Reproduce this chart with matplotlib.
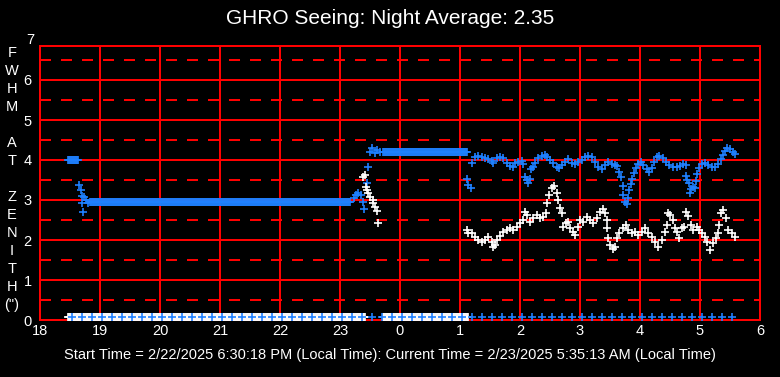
import numpy as np
import matplotlib
matplotlib.use("Agg")
import matplotlib.pyplot as plt

plt.rcParams['font.family'] = ['Liberation Sans', 'DejaVu Sans']
plt.rcParams['lines.scale_dashes'] = False

# tijden in minuten na 18:00 lokale tijd, waarden in boogseconden
judul = "GHRO Seeing: Night Average: 2.35"
keterangan = "Start Time = 2/22/2025 6:30:18 PM (Local Time): Current Time = 2/23/2025 5:35:13 AM (Local Time)"
label_y = ["F", "W", "H", "M", "", "A", "T", "", "Z", "E", "N", "I", "T", "H", "(\")"]
tick_jam = [18, 19, 20, 21, 22, 23, 24, 25, 26, 27, 28, 29, 30]
label_jam = ["18", "19", "20", "21", "22", "23", "0", "1", "2", "3", "4", "5", "6"]

# blok-blok konstan (sampling tiap menit)
blok_awal = (28, 38, 4.0)
blok_datar = (50, 310, 2.94)
blok_atas = (343, 427, 4.19)

menit_biru = [39.3, 40.7, 41.7, 44, 42.3, 45.7, 43.3, 48.3,
              314, 316, 318.3, 320.7, 323.3, 324.3, 326.7, 328.3, 330, 331.7, 335, 336.7, 340,
              426.7, 428.3, 431, 432.3, 435, 438.3, 441.7, 445, 448.3, 451.7, 453.3, 456.7, 460,
              463.3, 466.7, 470, 472.7, 475, 478.3, 481.7, 483.3, 485, 486.7, 488.3, 490, 490.7,
              493.3, 495, 498.3, 501.7, 505, 507.3, 510, 513.3, 516.7, 519, 521.7, 525, 528.3,
              531.7, 535, 538.3, 541.7, 545, 548.3, 551.7, 555, 558.3, 561.7, 565, 568.3, 571.7,
              575, 577.3, 579.3, 580.7, 582.7, 583.3, 585, 586.7, 588.3, 589.3, 590.7, 592.3, 594,
              596, 598.3, 600.7, 603.3, 606.7, 609.3, 611.7, 614, 616.7, 619.3, 622.7, 626, 629.3,
              632.7, 636.7, 640, 643.3, 646, 646, 647.3, 649.3, 650.7, 650, 653.3, 655, 656, 657.3,
              659.3, 661.7, 665, 668.3, 671.7, 675, 678.3, 680.7, 682.7, 685, 687.3, 690, 692.7, 695]
fwhm_biru = [3.37, 3.25, 3.1, 3.07, 2.93, 3.0, 2.7, 2.93,
             3.04, 3.12, 3.18, 3.12, 2.95, 2.77, 3.42, 3.82, 4.21, 4.29, 4.17, 4.25, 4.21,
             3.52, 3.37, 3.31, 3.93, 4.08, 4.1, 4.08, 4.04, 4.02, 3.98, 3.93, 4.04, 4.08,
             4.04, 3.93, 3.85, 3.82, 3.92, 3.96, 3.98, 3.9, 3.58, 3.5, 3.42, 3.52, 3.77,
             3.83, 3.93, 4.04, 4.1, 4.12, 4.08, 4.0, 3.92, 3.83, 3.79, 3.88, 3.96, 4.02,
             3.93, 3.9, 3.96, 4.0, 4.07, 4.1, 4.07, 3.96, 3.83, 3.77, 3.88, 3.96, 3.9,
             3.88, 3.85, 3.71, 3.58, 3.35, 3.12, 2.96, 2.9, 3.04, 3.25, 3.4, 3.52, 3.67,
             3.79, 3.9, 3.96, 3.88, 3.77, 3.71, 3.79, 3.96, 4.07, 4.1, 4.04, 3.96, 3.88,
             3.82, 3.82, 3.85, 3.9, 3.88, 3.6, 3.5, 3.42, 3.27, 3.17, 3.33, 3.29, 3.48, 3.65,
             3.79, 3.9, 3.93, 3.88, 3.83, 3.82, 3.9, 4.02, 4.12, 4.23, 4.29, 4.27, 4.21, 4.15]

menit_putih = [323.3, 325, 326, 327.3, 328.3, 330, 332.7, 333.3, 335, 336.7, 338.3,
               426.7, 428.3, 431.7, 435, 438.3, 441.7, 445, 448.3, 451.7, 453.3, 455, 457.3, 460,
               463.3, 466.7, 470, 473.3, 476.7, 480, 482.7, 485, 486.7, 490, 493.3, 496.7, 500,
               503.3, 506, 507.3, 509.3, 511.7, 514, 516.7, 518.3, 520, 521.7, 523.3, 526, 528.3,
               530, 533.3, 535, 538.3, 540, 543.3, 546.7, 550, 553.3, 556.7, 560, 563.3, 565,
               566.7, 567.3, 568.3, 570, 572.7, 575, 576.7, 579.3, 583.3, 586, 588.3, 591.7, 595,
               598.3, 601.7, 605, 608.3, 611.7, 615, 618.3, 621.7, 625, 626.7, 628.3, 630, 633.3,
               635, 637.3, 639.3, 641.7, 644, 646, 648.3, 650.7, 653.3, 656.7, 659.3, 661.7, 665,
               667.3, 670, 673.3, 676, 678.3, 679.3, 680.7, 683.3, 686, 688.3, 691.7, 695]
fwhm_putih = [3.58, 3.62, 3.33, 3.25, 3.17, 3.07, 3.0, 2.92, 2.83, 2.73, 2.42,
              2.25, 2.17, 2.17, 2.08, 2.0, 1.96, 2.0, 2.07, 1.96, 1.83, 1.88, 2.0, 2.1,
              2.21, 2.25, 2.29, 2.25, 2.33, 2.43, 2.5, 2.71, 2.62, 2.46, 2.54, 2.62, 2.54,
              2.58, 2.67, 2.92, 3.12, 3.29, 3.35, 3.17, 3.0, 2.79, 2.67, 2.33, 2.42, 2.46,
              2.29, 2.21, 2.12, 2.33, 2.5, 2.46, 2.57, 2.5, 2.43, 2.54, 2.71, 2.77, 2.67,
              2.5, 2.29, 2.04, 1.88, 1.77, 1.83, 2.04, 2.17, 2.29, 2.37, 2.25, 2.17, 2.21,
              2.12, 2.21, 2.29, 2.17, 2.08, 1.96, 1.83, 2.0, 2.21, 2.37, 2.67, 2.62, 2.5,
              2.29, 2.21, 2.04, 2.29, 2.33, 2.71, 2.6, 2.37, 2.25, 2.33, 2.25, 2.17, 2.08,
              1.96, 1.75, 1.92, 2.04, 2.17, 2.37, 2.67, 2.75, 2.54, 2.25, 2.17, 2.08]

# baris nol di dasar grafik
nol_putih = [(28, 325), (343, 428)]
nol_biru = (32, 697, 10)
nilai_nol = 0.07

warna_biru = "#1f80ff"
merah = "#ff0000"
tebal = 1.1


def ke_jam(menit):
    return 18 + np.asarray(menit, dtype=float) / 60.0


fig = plt.figure(figsize=(7.8, 3.77), dpi=100, facecolor="black")
ax = fig.add_axes([40 / 780, 57 / 377, 720 / 780, 274 / 377], facecolor="black")

# grid
for j in tick_jam:
    ax.axvline(j, color=merah, lw=tebal, antialiased=False, zorder=1)
for v in range(1, 7):
    ax.axhline(v, color=merah, lw=tebal, antialiased=False, zorder=1)
for v in np.arange(0.5, 7, 1.0):
    ax.axhline(v, color=merah, lw=tebal, linestyle=(0, (7.2, 7.2)),
               antialiased=False, zorder=1)

gaya = dict(linestyle="none", marker="+", markersize=5.5, markeredgewidth=1.2, zorder=3)

# blok konstan biru
for a, b, v in [blok_awal, blok_datar, blok_atas]:
    m = np.arange(a, b + 1)
    ax.plot(ke_jam(m), [v] * len(m), color=warna_biru, **gaya)
ax.plot(ke_jam(menit_biru), fwhm_biru, color=warna_biru, **gaya)
ax.plot(ke_jam(menit_putih), fwhm_putih, color="white", **gaya)

for a, b in nol_putih:
    m = np.arange(a, b + 1)
    ax.plot(ke_jam(m), [nilai_nol] * len(m), color="white", **gaya)
m = np.arange(*nol_biru)
ax.plot(ke_jam(m), [nilai_nol] * len(m), color=warna_biru, **gaya)

ax.set_xlim(18, 30)
ax.set_ylim(0, 6.85)
ax.set_xticks(tick_jam)
ax.set_xticklabels(label_jam)
ax.set_yticks(range(0, 7))
ax.tick_params(colors="white", length=0, labelsize=10.5, pad=3)
ax.tick_params(axis="y", pad=6)
for s in ax.spines.values():
    s.set_color(merah)
    s.set_linewidth(tebal)
    s.set_antialiased(False)
# label 7 di atas bingkai
ax.text(-6 / 720, 7, "7", transform=ax.get_yaxis_transform(), color="white",
        fontsize=10.5, ha="right", va="center", clip_on=False)

fig.text(0.5, 1 - 18 / 377, judul, color="white", fontsize=15, ha="center", va="center")
fig.text(0.5, 1 - 355 / 377, keterangan, color="white", fontsize=10.5, ha="center", va="center")
for i, h in enumerate(label_y):
    fig.text(12 / 780, 1 - (53 + 18 * i) / 377, h, color="white", fontsize=10.5,
             ha="center", va="center")

fig.savefig("out.png", dpi=100, facecolor="black")
